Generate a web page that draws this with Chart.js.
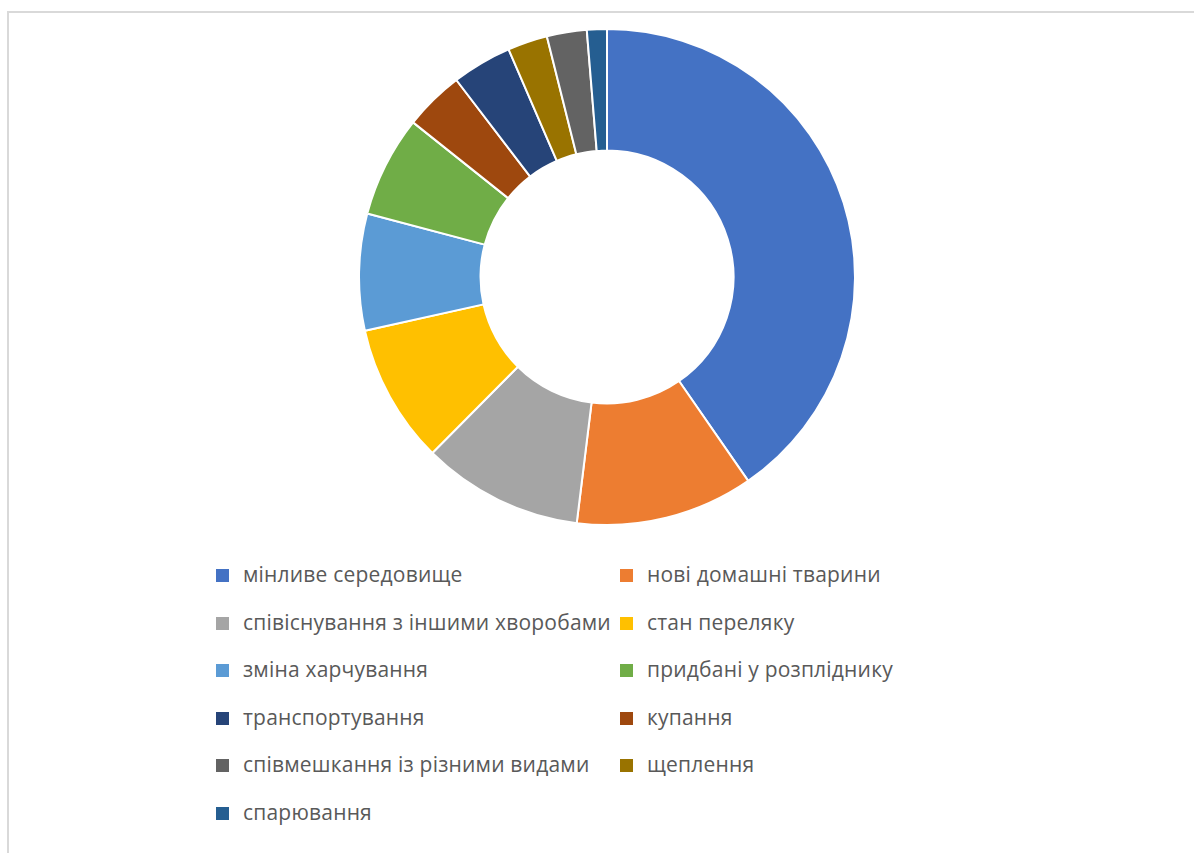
<!DOCTYPE html>
<html>
<head>
<meta charset="utf-8">
<script src="https://cdn.jsdelivr.net/npm/chart.js@4"></script>
<style>
  body { margin: 0; background: #fff; width: 1194px; height: 853px; overflow: hidden; position: relative; }
  #frame { position: absolute; left: 7px; top: 11px; width: 1300px; height: 900px;
           border-left: 2px solid #d9d9d9; border-top: 2px solid #d9d9d9; }
  #wrap { position: absolute; left: 358px; top: 28px; width: 498px; height: 498px; }
  #legend { position: absolute; left: 0; top: 0; }
  .item { position: absolute; font-family: "Open Sans", sans-serif; font-size: 21px; letter-spacing: 0.2px; color: #595959; white-space: nowrap; }
  .box { position: absolute; width: 13px; height: 13px; }
</style>
</head>
<body>
<div id="frame"></div>
<div id="wrap"><canvas id="myChart"></canvas></div>
<div id="legend"></div>
<script>
// slices in the order they run clockwise from 12 o'clock (share of cases, %)
const labels = [
  "мінливе середовище",
  "нові домашні тварини",
  "співіснування з іншими хворобами",
  "стан переляку",
  "зміна харчування",
  "придбані у розпліднику",
  "купання",
  "транспортування",
  "щеплення",
  "співмешкання із різними видами",
  "спарювання"
];
const values = [40.4, 11.6, 10.5, 9.1, 7.6, 6.6, 3.9, 3.9, 2.6, 2.6, 1.3];
const colors = ["#4472C4", "#ED7D31", "#A5A5A5", "#FFC000", "#5B9BD5", "#70AD47",
                "#9E480E", "#264478", "#997300", "#636363", "#255E91"];
// legend lists them in a slightly different order
const legendOrder = [0, 1, 2, 3, 4, 5, 7, 6, 9, 8, 10];

const chart = new Chart("myChart", {
  type: "doughnut",
  data: {
    labels: labels,
    datasets: [{
      data: values,
      backgroundColor: colors,
      borderColor: "#fff",
      borderWidth: 2
    }]
  },
  options: {
    responsive: true,
    maintainAspectRatio: false,
    animation: false,
    cutout: "51%",
    layout: {padding: 0},
    plugins: {
      legend: {display: false},
      tooltip: {enabled: false}
    }
  }
});

// legend in two columns
const legend = document.getElementById("legend");
legendOrder.forEach(function(idx, i) {
  const col = i % 2;
  const row = Math.floor(i / 2);
  const x = col === 0 ? 216 : 620;
  const y = 576 + row * 47.6;
  const box = document.createElement("div");
  box.className = "box";
  box.style.left = x + "px";
  box.style.top = (y - 7) + "px";
  box.style.background = colors[idx];
  legend.appendChild(box);
  const t = document.createElement("div");
  t.className = "item";
  t.style.left = (x + 27) + "px";
  t.style.top = (y - 16) + "px";
  t.textContent = labels[idx];
  legend.appendChild(t);
});
</script>
</body>
</html>
